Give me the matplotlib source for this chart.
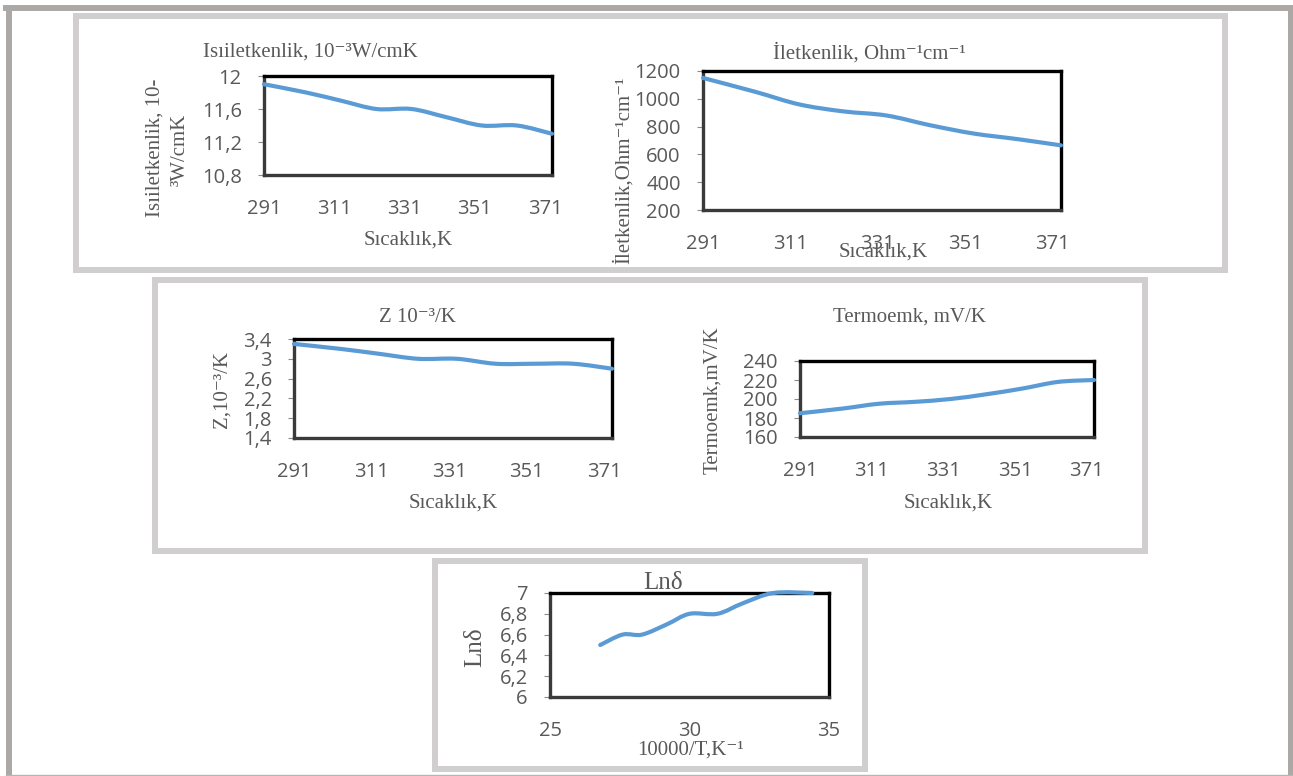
import matplotlib
matplotlib.use('Agg')
import matplotlib.pyplot as plt
from matplotlib.patches import Rectangle, PathPatch
from matplotlib.path import Path
from matplotlib.lines import Line2D
from matplotlib.ticker import FuncFormatter

# --- data ---
temps = [291, 303, 313, 323, 333, 343, 353, 363, 373]
isiiletkenlik = [11.9, 11.8, 11.7, 11.6, 11.6, 11.5, 11.4, 11.4, 11.3]
iletkenlik = [1150, 1050, 960, 910, 880, 810, 750, 710, 665]
z_values = [3.3, 3.2, 3.1, 3.0, 3.0, 2.9, 2.9, 2.9, 2.8]
termoemk = [185, 190, 195, 197, 200, 205, 211, 218, 220]
inv_t = [34.4, 33.0, 31.9, 31.0, 30.0, 29.2, 28.3, 27.6, 26.8]
ln_delta = [7.0, 7.0, 6.9, 6.8, 6.8, 6.7, 6.6, 6.6, 6.5]

t_ticks = [291, 311, 331, 351, 371]
inv_ticks = [25, 30, 35]
y1_ticks = [10.8, 11.2, 11.6, 12]
y2_ticks = [200, 400, 600, 800, 1000, 1200]
y3_ticks = [1.4, 1.8, 2.2, 2.6, 3, 3.4]
y4_ticks = [160, 180, 200, 220, 240]
y5_ticks = [6, 6.2, 6.4, 6.6, 6.8, 7]

W, H = 1293, 776

fig = plt.figure(figsize=(W / 100, H / 100), dpi=100)

GRAY_TXT = '#595959'
LINE_C = '#5b9bd5'
SERIF = ['Liberation Serif', 'DejaVu Serif']


def px_axes(l, t, r, b):
    return fig.add_axes([l / W, 1 - b / H, (r - l) / W, (b - t) / H])


def style(ax, xlim, xticks, ylim, yticks):
    ax.set_xlim(*xlim)
    ax.set_ylim(*ylim)
    ax.set_xticks(xticks)
    ax.set_yticks(yticks)
    fmt = FuncFormatter(lambda v, p: f'{v:g}'.replace('.', ','))
    ax.yaxis.set_major_formatter(fmt)
    ax.xaxis.set_major_formatter(fmt)
    for s in ['top', 'right']:
        ax.spines[s].set_color('black')
        ax.spines[s].set_linewidth(2.4)
    for s in ['left', 'bottom']:
        ax.spines[s].set_color('#3a3a3a')
        ax.spines[s].set_linewidth(2.4)
    ax.tick_params(axis='y', length=4, color='#8c8c8c', pad=12,
                   labelsize=14.5, labelcolor=GRAY_TXT)
    ax.tick_params(axis='x', length=0, pad=17,
                   labelsize=14.5, labelcolor=GRAY_TXT)
    for lab in ax.get_xticklabels() + ax.get_yticklabels():
        lab.set_family('Open Sans')


def draw(ax, x, y):
    # smoothed line like Excel's "smoothed line" option (Bezier through the points)
    pts = list(zip(x, y))
    n = len(pts)
    verts = [pts[0]]
    codes = [Path.MOVETO]
    for i in range(n - 1):
        p0 = pts[max(i - 1, 0)]
        p1 = pts[i]
        p2 = pts[i + 1]
        p3 = pts[min(i + 2, n - 1)]
        c1 = (p1[0] + (p2[0] - p0[0]) / 6, p1[1] + (p2[1] - p0[1]) / 6)
        c2 = (p2[0] - (p3[0] - p1[0]) / 6, p2[1] - (p3[1] - p1[1]) / 6)
        verts += [c1, c2, p2]
        codes += [Path.CURVE4] * 3
    patch = PathPatch(Path(verts, codes), facecolor='none', edgecolor=LINE_C,
                      lw=3.0, capstyle='round', joinstyle='round',
                      clip_on=False, zorder=3)
    ax.add_patch(patch)


def ftext(x, y, s, size=15, rot=0):
    fig.text(x / W, 1 - y / H, s, ha='center', va='center', rotation=rot,
             family=SERIF, size=size, color=GRAY_TXT)


def frame(l, t, r, b, color, lw):
    fig.patches.append(Rectangle((l / W, 1 - b / H), (r - l) / W, (b - t) / H,
                                 transform=fig.transFigure, fill=False,
                                 edgecolor=color, linewidth=lw))


# outer frame and the three boxes
outer = '#aca8a6'
fig.add_artist(Line2D([9 / W, 9 / W], [0, 1 - 8 / H], color=outer, lw=4.3, transform=fig.transFigure))
fig.add_artist(Line2D([6 / W, 1293 / W], [1 - 8 / H, 1 - 8 / H], color=outer, lw=4.3, transform=fig.transFigure))
fig.add_artist(Line2D([1290.5 / W, 1290.5 / W], [0, 1 - 8 / H], color=outer, lw=4.3, transform=fig.transFigure))
fig.add_artist(Line2D([6 / W, 1293 / W], [1 - 775 / H, 1 - 775 / H], color='#b5b5b5', lw=1, transform=fig.transFigure))

frame(76, 16, 1225, 270, '#d0cece', 4.3)
frame(155, 280, 1145, 551, '#d0cece', 4.3)
frame(435, 561, 865, 769, '#d0cece', 4.3)

# chart 1
ax1 = px_axes(264, 76, 552, 175)
draw(ax1, temps, isiiletkenlik)
style(ax1, (291, 373), t_ticks, (10.8, 12), y1_ticks)
ftext(310, 52, 'Isıiletkenlik, 10⁻³W/cmK')
ftext(155, 148, 'Isıiletkenlik, 10-', rot=90)
ftext(180, 150, '³W/cmK', rot=90)
ftext(408, 240, 'Sıcaklık,K')

# chart 2
ax2 = px_axes(703, 71, 1061, 210)
draw(ax2, temps, iletkenlik)
style(ax2, (291, 373), t_ticks, (200, 1200), y2_ticks)
ftext(869, 53, 'İletkenlik, Ohm⁻¹cm⁻¹')
ftext(623, 170, 'İletkenlik,Ohm⁻¹cm⁻¹', rot=90)
ftext(883, 252, 'Sıcaklık,K')

# chart 3
ax3 = px_axes(294, 339, 612, 438)
draw(ax3, temps, z_values)
style(ax3, (291, 373), t_ticks, (1.4, 3.4), y3_ticks)
ftext(417, 318, 'Z 10⁻³/K')
ftext(222, 390, 'Z,10⁻³/K', rot=90)
ftext(453, 503, 'Sıcaklık,K')

# chart 4
ax4 = px_axes(800, 361, 1094, 437)
draw(ax4, temps, termoemk)
style(ax4, (291, 373), t_ticks, (160, 240), y4_ticks)
ftext(909, 317, 'Termoemk, mV/K')
ftext(713, 400, 'Termoemk,mV/K', rot=90)
ftext(948, 503, 'Sıcaklık,K')

# chart 5
ax5 = px_axes(550, 593, 829, 697)
draw(ax5, inv_t, ln_delta)
style(ax5, (25, 35), inv_ticks, (6, 7), y5_ticks)
ftext(663, 583, 'Lnδ', size=18)
ftext(475, 647, 'Lnδ', size=18, rot=90)
ftext(690, 750, '10000/T,K⁻¹')

fig.savefig('out.png', dpi=100)
